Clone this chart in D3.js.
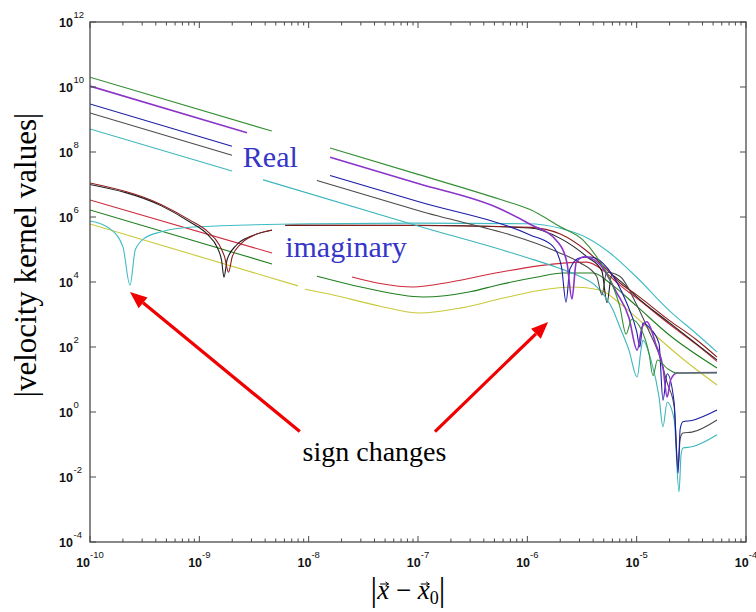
<!DOCTYPE html>
<html><head><meta charset="utf-8">
<script src="https://cdn.jsdelivr.net/npm/d3@7"></script>
<style>body{margin:0;background:#fff} svg{display:block}</style>
</head><body>
<svg id="chart" width="756" height="612"></svg>
<script>
// ---------- data: [distance, |kernel value|]; null marks a break in a curve ----------
const xTickExponents = [-10, -9, -8, -7, -6, -5, -4];
const yTickExponents = [-4, -2, 0, 2, 4, 6, 8, 10, 12];

// real parts
const realGreen = [[1e-10,2.0e10],[4.6e-9,4.4e8],null,[1.57e-8,1.33e8],[1e-7,2.05e7],[5.6e-7,3.5e6],[1.06e-6,1.7e6],[2.0e-6,5.0e5],[3.2e-6,2.0e5],[4.3e-6,6e4],[5.7e-6,1.2e4],[7.0e-6,1.8e3],[8.0e-6,2.5e2],[9.0e-6,7e2],[1.1e-5,3.5e2],[1.3e-5,60],[1.41e-5,13],[1.55e-5,40],[1.9e-5,22],[2.34e-5,15.8],[5.43e-5,15.8]];
const realPurple = [[1e-10,1.07e10],[2.73e-9,3.9e8],null,[1.57e-8,6.9e7],[1e-7,1.07e7],[5.6e-7,1.8e6],[1.06e-6,6e5],[1.87e-6,1.8e5],[2.3e-6,4e4],[2.56e-6,3.0e3],[2.8e-6,4e4],[3.3e-6,6e4],[4.6e-6,3.5e4],[6.5e-6,5e3],[8.5e-6,8e2],[1.01e-5,80],[1.12e-5,4e2],[1.24e-5,6e2],[1.5e-5,1.2e2],[1.74e-5,24],[1.9e-5,2.9],[2.05e-5,10],[2.34e-5,15.8],[5.43e-5,16.5]];
const realBlue = [[1e-10,3.0e9],[1.99e-9,1.5e8],null,[1.57e-8,1.9e7],[1e-7,3.0e6],[1.06e-6,2.8e5],[1.7e-6,1.3e5],[2.05e-6,3e4],[2.26e-6,2.4e3],[2.45e-6,2.5e4],[3.0e-6,5.5e4],[3.8e-6,5.9e4],[5.5e-6,2.5e4],[8e-6,2.5e3],[1.0e-5,3e2],[1.07e-5,100],[1.14e-5,5.5e2],[1.3e-5,4e2],[1.6e-5,1.3e2],[1.74e-5,2.3],[1.9e-5,15],[2.2e-5,2],[2.39e-5,0.013],[2.5e-5,0.3],[2.65e-5,0.5],[3.2e-5,0.55],[5.43e-5,1.15]];
const realGray = [[1e-10,1.58e9],[1.99e-9,7.9e7],null,[1.19e-8,1.33e7],[1e-7,1.58e6],[1.87e-6,8.5e4],[3.0e-6,4e4],[4.3e-6,1.5e4],[4.82e-6,4e3],[5.3e-6,2e4],[7e-6,1.5e4],[1e-5,2e3],[1.3e-5,300],[1.6e-5,60],[1.9e-5,8],[2.2e-5,1.5],[2.39e-5,0.02],[2.5e-5,0.15],[2.65e-5,0.226],[3.2e-5,0.24],[5.43e-5,0.57]];
const realCyan = [[1e-10,5.1e8],[1.99e-9,2.6e7],null,[3.82e-9,1.4e7],[1e-7,5.3e5],[1.0e-6,5.6e4],[1.87e-6,2.8e4],[3.0e-6,1.5e4],[4.34e-6,7e3],[6e-6,1.5e3],[7.04e-6,4e2],[8.5e-6,80],[1.01e-5,12],[1.1e-5,90],[1.14e-5,160],[1.35e-5,40],[1.6e-5,3],[1.74e-5,0.35],[1.9e-5,2],[2.2e-5,0.6],[2.44e-5,0.0035],[2.55e-5,0.05],[2.65e-5,0.078],[3.2e-5,0.085],[5.43e-5,0.2]];

// imaginary parts
const imagDarkRed = [[1e-10,1.11e7],[4.5e-10,2.4e6],[8.2e-10,8e5],[1.2e-9,3.5e5],[1.5e-9,1.5e5],[1.7e-9,6e4],[1.85e-9,2.0e4],[2.0e-9,6e4],[2.4e-9,1.5e5],[3.2e-9,2.8e5],[4.62e-9,4.0e5],null,[6.1e-9,5.6e5],[1e-7,5.5e5],[1.06e-6,4.8e5],[2e-6,3.0e5],[3.5e-6,9e4],[5e-6,3e4],[7e-6,9.5e3],[1e-5,4e3],[2e-5,6.5e2],[3.5e-5,1.7e2],[5.43e-5,49]];
const imagBlack = [[1e-10,1.0e7],[4.5e-10,2.2e6],[8.2e-10,7e5],[1.2e-9,2.8e5],[1.45e-9,1.2e5],[1.6e-9,4.5e4],[1.68e-9,1.4e4],[1.8e-9,5e4],[2.2e-9,1.4e5],[3e-9,2.6e5],[4.62e-9,3.9e5],null,[6.1e-9,5.5e5],[1e-7,5.6e5],[1.06e-6,4.6e5],[2e-6,2.2e5],[3.5e-6,6e4],[4.8e-6,2.2e4],[5.36e-6,2.3e3],[5.9e-6,1.6e4],[7e-6,1.1e4],[1e-5,3.5e3],[2e-5,5.5e2],[5.43e-5,40]];
const imagRed = [[1e-10,3.34e6],[4.62e-9,7.8e4],null,[2.49e-8,1.43e4],[4.5e-8,9e3],[9e-8,7.0e3],[2e-7,1e4],[5.6e-7,2.0e4],[2.12e-6,3.8e4],[3.5e-6,4.1e4],[5e-6,2.2e4],[7e-6,8e3],[1e-5,3.2e3],[2e-5,5e2],[3.5e-5,1.2e2],[5.43e-5,36]];
const imagGreen = [[1e-10,1.64e6],[4.62e-9,3.6e4],null,[1.19e-8,1.5e4],[3e-8,7e3],[1.11e-7,3.45e3],[3e-7,5e3],[5.4e-7,8.1e3],[1.2e-6,1.4e4],[2.12e-6,1.89e4],[3.99e-6,1.89e4],[6e-6,8e3],[1e-5,1.8e3],[2e-5,230],[5.43e-5,22.6]];
const imagCyan = [[1e-10,7.5e5],[1.5e-10,4.5e5],[2.0e-10,1.2e5],[2.32e-10,8e3],[2.6e-10,1.0e5],[3.2e-10,2.3e5],[4.5e-10,3.5e5],[8.75e-10,4.9e5],[1e-8,6.2e5],[1e-7,6.5e5],[1e-6,6.2e5],[2e-6,4.5e5],[3.5e-6,2.3e5],[5.7e-6,7.8e4],[1e-5,1.4e4],[2e-5,1.3e3],[3.5e-5,2.6e2],[5.43e-5,70]];
const imagYellow = [[1e-10,6.1e5],[7.98e-9,7.6e3],null,[9.25e-9,6.0e3],[1.57e-8,4.2e3],[4.5e-8,1.8e3],[1.04e-7,1.11e3],[2.5e-7,1.6e3],[6e-7,3.2e3],[1.5e-6,6e3],[2.62e-6,7e3],[4.62e-6,5.7e3],[7e-6,2.2e3],[1e-5,8e2],[1.41e-5,270],[2.5e-5,50],[5.43e-5,6.8]];

// ---------- drawing ----------
const curves = [
  {pts: imagYellow, color: "#c9c93a"},
  {pts: imagGreen,  color: "#1f7f1f"},
  {pts: imagRed,    color: "#cc2a3a"},
  {pts: imagCyan,   color: "#3fbcc4"},
  {pts: imagBlack,  color: "#1e1e1e"},
  {pts: imagDarkRed,color: "#8e1c1c"},
  {pts: realCyan,   color: "#3cb6bc"},
  {pts: realGray,   color: "#4a4a4a"},
  {pts: realBlue,   color: "#1c1ca6"},
  {pts: realPurple, color: "#8a34c8", w: 1.6},
  {pts: realGreen,  color: "#338f33"}
];

const plot = {left: 90, right: 746, top: 22, bottom: 542};
const svg = d3.select("#chart");
const x = d3.scaleLog().domain([1e-10, 1e-4]).range([plot.left, plot.right]);
const y = d3.scaleLog().domain([1e-4, 1e12]).range([plot.bottom, plot.top]);

svg.append("defs").append("clipPath").attr("id", "plotClip")
  .append("rect").attr("x", plot.left).attr("y", plot.top)
  .attr("width", plot.right - plot.left).attr("height", plot.bottom - plot.top);

const line = d3.line().defined(d => d !== null)
  .x(d => x(d[0])).y(d => y(d[1])).curve(d3.curveMonotoneX);

const gCurves = svg.append("g").attr("clip-path", "url(#plotClip)");
curves.forEach(c => {
  gCurves.append("path").attr("d", line(c.pts)).attr("fill", "none")
    .attr("stroke", c.color).attr("stroke-width", c.w || 1.1)
    .attr("stroke-linejoin", "round");
});

// frame and ticks (inward, on all four sides)
const axisColor = "#4a4a4a";
svg.append("rect").attr("x", plot.left).attr("y", plot.top)
  .attr("width", plot.right - plot.left).attr("height", plot.bottom - plot.top)
  .attr("fill", "none").attr("stroke", axisColor).attr("stroke-width", 1.3);

const isDecade = t => Math.abs(Math.log10(t) - Math.round(Math.log10(t))) < 1e-6;
const xMinor = x.ticks().filter(t => !isDecade(t));
const xMajor = xTickExponents.map(e => Math.pow(10, e));
const yMajor = yTickExponents.map(e => Math.pow(10, e));

const gTicks = svg.append("g").attr("stroke", axisColor).attr("stroke-width", 1);
[[xMajor, 6], [xMinor, 3.5]].forEach(([ticks, len]) => {
  ticks.forEach(t => {
    const px = x(t);
    gTicks.append("line").attr("x1", px).attr("x2", px).attr("y1", plot.bottom).attr("y2", plot.bottom - len);
    gTicks.append("line").attr("x1", px).attr("x2", px).attr("y1", plot.top).attr("y2", plot.top + len);
  });
});
yMajor.forEach(t => {
  const py = y(t);
  gTicks.append("line").attr("x1", plot.left).attr("x2", plot.left + 6).attr("y1", py).attr("y2", py);
  gTicks.append("line").attr("x1", plot.right).attr("x2", plot.right - 6).attr("y1", py).attr("y2", py);
});

// tick labels: bold base "10" with a light superscript exponent
const tickFont = "'Liberation Sans', Arial, sans-serif";
xTickExponents.forEach(e => {
  const t = svg.append("text").attr("x", x(Math.pow(10, e))).attr("y", 567)
    .attr("text-anchor", "middle").attr("font-family", tickFont).attr("fill", "#111");
  t.append("tspan").attr("font-size", 12.5).attr("font-weight", "bold").text("10");
  t.append("tspan").attr("font-size", 9.5).attr("dy", -9).text(String(e));
});
yTickExponents.forEach(e => {
  const py = y(Math.pow(10, e));
  svg.append("text").attr("x", 73).attr("y", py + 5).attr("text-anchor", "end")
    .attr("font-family", tickFont).attr("font-size", 12.5).attr("font-weight", "bold")
    .attr("fill", "#111").text("10");
  svg.append("text").attr("x", 73.5).attr("y", py - 4)
    .attr("font-family", tickFont).attr("font-size", 9.5).attr("fill", "#111")
    .text(String(e));
});

// axis titles
const serif = "'Liberation Serif', 'Times New Roman', serif";
svg.append("text").attr("transform", "translate(36,255) rotate(-90)")
  .attr("text-anchor", "middle").attr("font-family", serif).attr("font-size", 31)
  .attr("fill", "#000").text("|velocity kernel values|");

const xt = svg.append("text").attr("x", 408).attr("y", 599).attr("text-anchor", "middle")
  .attr("font-family", serif).attr("fill", "#000");
xt.append("tspan").attr("font-size", 33).attr("dy", 2).text("|");
xt.append("tspan").attr("font-size", 27).attr("font-style", "italic").attr("dy", -2).text("x");
xt.append("tspan").attr("font-size", 27).text(" \u2212 ");
xt.append("tspan").attr("font-size", 27).attr("font-style", "italic").text("x");
xt.append("tspan").attr("font-size", 18).attr("dy", 5).text("0");
xt.append("tspan").attr("font-size", 33).attr("dy", -3).text("|");
// vector arrows over both x's (characters 1 and 5 of "|x − x0|")
const xtNode = xt.node();
[1, 5].forEach(i => {
  const ext = xtNode.getExtentOfChar(i);
  const x0 = ext.x + ext.width * 0.25, x1 = ext.x + ext.width * 0.95, ya = ext.y + ext.height * 0.3;
  svg.append("path").attr("d", `M${x0},${ya}H${x1}M${x1 - 3},${ya - 2}L${x1},${ya}L${x1 - 3},${ya + 2}`)
    .attr("fill", "none").attr("stroke", "#000").attr("stroke-width", 1);
});

// annotations
svg.append("text").attr("x", x(2.5e-9)).attr("y", y(3.5e7)).attr("font-family", serif)
  .attr("font-size", 30).attr("fill", "#3535c8").text("Real");
svg.append("text").attr("x", x(6.1e-9)).attr("y", y(5.9e4)).attr("font-family", serif)
  .attr("font-size", 30).attr("fill", "#3535c8").text("imaginary");
svg.append("text").attr("x", x(4.0e-8)).attr("y", y(0.03)).attr("text-anchor", "middle")
  .attr("font-family", serif).attr("font-size", 28).attr("fill", "#000").text("sign changes");

function arrow(from, to) {
  const [x0, y0] = [x(from[0]), y(from[1])], [x1, y1] = [x(to[0]), y(to[1])];
  const a = Math.atan2(y1 - y0, x1 - x0), L = 17, Wd = 7;
  const bx = x1 - L * Math.cos(a), by = y1 - L * Math.sin(a);
  svg.append("line").attr("x1", x0).attr("y1", y0).attr("x2", bx).attr("y2", by)
    .attr("stroke", "#f00000").attr("stroke-width", 3.2);
  const px = -Math.sin(a) * Wd, py = Math.cos(a) * Wd;
  svg.append("path").attr("d", `M${x1},${y1}L${bx + px},${by + py}L${bx - px},${by - py}Z`)
    .attr("fill", "#f00000");
}
arrow([8.3e-9, 0.25], [2.32e-10, 4.9e3]);
arrow([1.43e-7, 0.25], [1.55e-6, 590]);
</script>
</body></html>
